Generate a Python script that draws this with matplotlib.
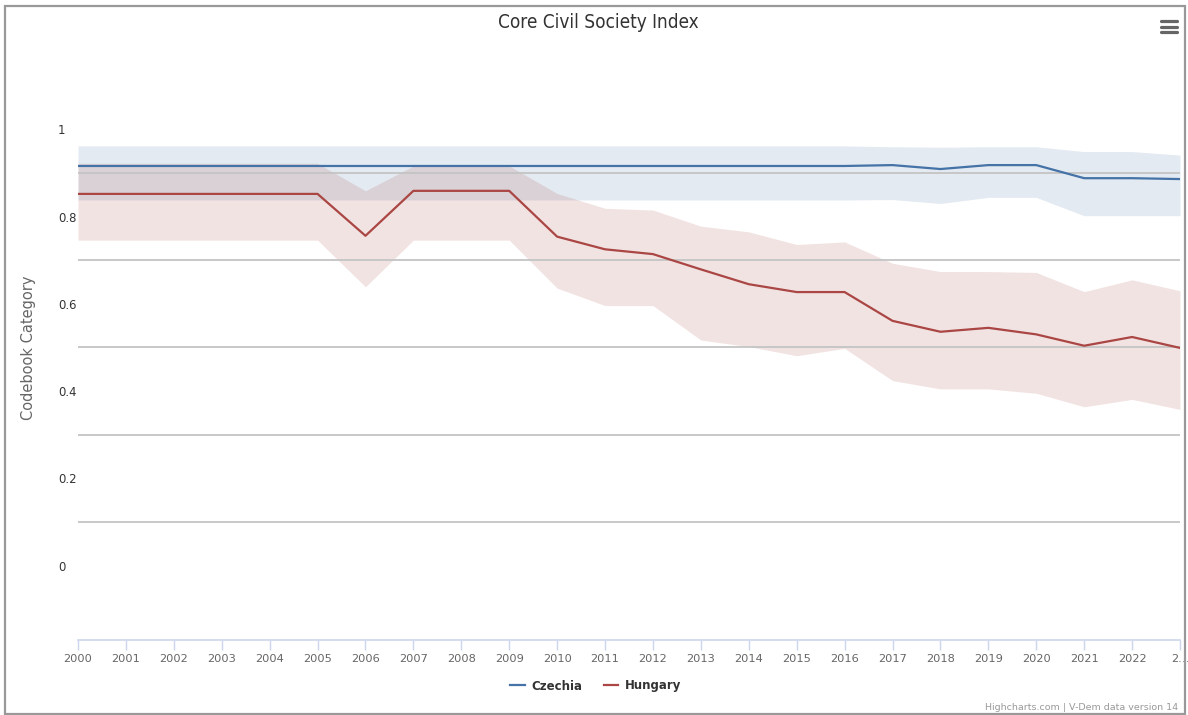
import matplotlib
matplotlib.use('Agg')
import matplotlib.pyplot as plt
from matplotlib.lines import Line2D
from matplotlib.patches import Rectangle

# Data
years = list(range(2000, 2024))
year_labels = [str(y) for y in years[:-1]] + ['2…']

czechia = [0.916] * 17 + [0.918, 0.909, 0.918, 0.918, 0.888, 0.888, 0.886]
czechia_hi = [0.962] * 17 + [0.960, 0.959, 0.960, 0.960, 0.949, 0.949, 0.941]
czechia_lo = [0.838] * 17 + [0.839, 0.830, 0.844, 0.844, 0.802, 0.802, 0.802]

hungary = [0.852, 0.852, 0.852, 0.852, 0.852, 0.852, 0.756, 0.859, 0.859, 0.859,
           0.754, 0.725, 0.714, 0.679, 0.645, 0.627, 0.627, 0.561, 0.536, 0.545,
           0.530, 0.504, 0.524, 0.499]
hungary_hi = [0.922, 0.922, 0.922, 0.922, 0.922, 0.922, 0.859, 0.916, 0.916, 0.916,
              0.853, 0.819, 0.815, 0.778, 0.765, 0.736, 0.742, 0.693, 0.674, 0.674,
              0.672, 0.628, 0.655, 0.630]
hungary_lo = [0.746, 0.746, 0.746, 0.746, 0.746, 0.746, 0.639, 0.746, 0.746, 0.746,
              0.636, 0.596, 0.596, 0.517, 0.502, 0.481, 0.498, 0.424, 0.405, 0.405,
              0.395, 0.364, 0.381, 0.358]

y_ticks = [0, 0.2, 0.4, 0.6, 0.8, 1]
y_tick_labels = ['0', '0.2', '0.4', '0.6', '0.8', '1']
grid_values = [0.1, 0.3, 0.5, 0.7, 0.9]

blue = '#4572a7'
red = '#aa4643'

W, H = 1188, 715
fig = plt.figure(figsize=(W / 100, H / 100), dpi=100)
ax = fig.add_axes([78 / W, 1 - 640 / H, (1180 - 78) / W, (640 - 85.7) / H])

# confidence bands
ax.fill_between(years, czechia_lo, czechia_hi, color=blue, alpha=0.15, lw=0, zorder=1)
ax.fill_between(years, hungary_lo, hungary_hi, color=red, alpha=0.15, lw=0, zorder=1)

for g in grid_values:
    ax.axhline(g, color='#c4c4c4', lw=1.3, zorder=2)

ax.plot(years, czechia, color=blue, lw=1.6, zorder=3)
ax.plot(years, hungary, color=red, lw=1.6, zorder=3)

ax.set_xlim(2000, 2023)
ax.set_ylim(-0.1705, 1.1)

for side in ['top', 'right', 'left']:
    ax.spines[side].set_visible(False)
ax.spines['bottom'].set_color('#ccd6eb')
ax.spines['bottom'].set_linewidth(1.2)

ax.set_xticks(years)
ax.set_xticklabels(year_labels, fontsize=8.2, color='#666666')
ax.tick_params(axis='x', length=7, width=1, color='#ccd6eb', pad=3)

ax.set_yticks(y_ticks)
ax.set_yticklabels(y_tick_labels, fontsize=8.4, color='#333333')
ax.tick_params(axis='y', length=0, pad=14.4)
for lab in ax.get_yticklabels():
    lab.set_horizontalalignment('left')

fig.text(29 / W, 1 - 348 / H, 'Codebook Category', rotation=90, fontsize=10.5,
         color='#666666', ha='center', va='center')

fig.text(598 / W, 1 - 22 / H, 'Core Civil Society Index',
         family='DejaVu Sans', fontstretch='condensed', fontsize=13.6,
         color='#333333', ha='center', va='center')

# legend
handles = [Line2D([0], [0], color=blue, lw=1.6), Line2D([0], [0], color=red, lw=1.6)]
fig.legend(handles, ['Czechia', 'Hungary'], loc='center', bbox_to_anchor=(596 / W, 1 - 686 / H),
           ncol=2, frameon=False, handlelength=1.2, handletextpad=0.6, columnspacing=1.8,
           prop={'size': 8.5, 'weight': 'bold'}, labelcolor='#333333')

fig.text(1178 / W, 1 - 707 / H, 'Highcharts.com | V-Dem data version 14', fontsize=6.8,
         color='#999999', ha='right', va='center')

# menu icon
for yy in (21, 26.5, 32):
    fig.add_artist(Line2D([1161 / W, 1177 / W], [1 - yy / H, 1 - yy / H],
                          color='#666666', lw=2.3, solid_capstyle='round'))

# outer frame
fig.add_artist(Rectangle((4.5 / W, 1 - 713.5 / H), (1185 - 4.5) / W, (713.5 - 5.5) / H,
                         fill=False, edgecolor='#999999', lw=1.6))

fig.savefig('out.png', dpi=100)
